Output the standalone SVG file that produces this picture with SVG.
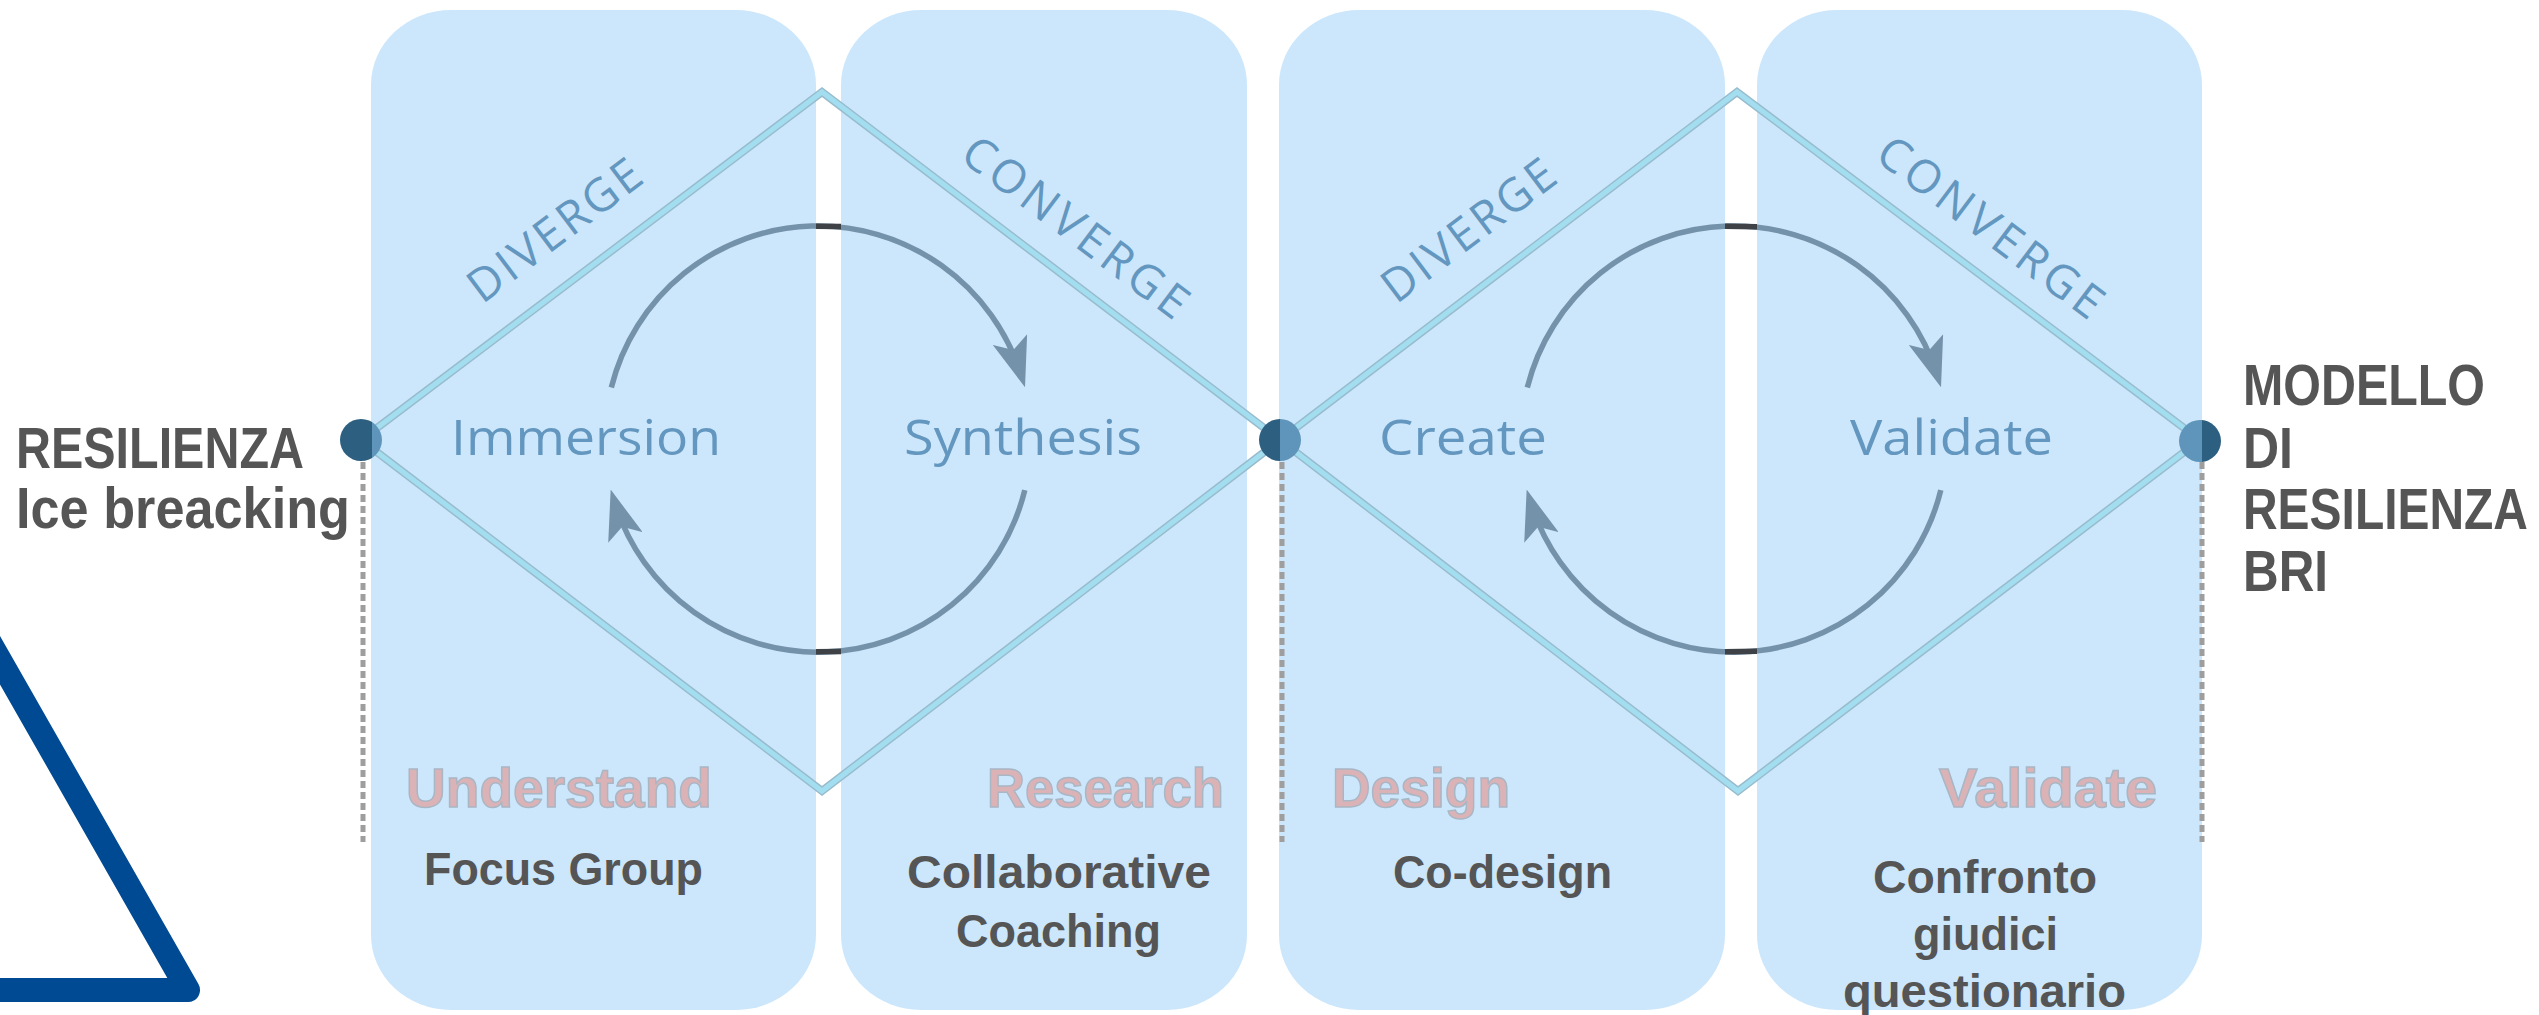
<svg xmlns="http://www.w3.org/2000/svg" width="2539" height="1015" viewBox="0 0 2539 1015">
<defs>
<style>
.panel{fill:#cce7fc}
.dOut{fill:none;stroke:#98bccd;stroke-width:8;stroke-linejoin:miter}
.dIn{fill:none;stroke:#a3def0;stroke-width:5;stroke-linejoin:miter}
.cyc{fill:none;stroke:#7592ab;stroke-width:5.5}
.gap{stroke:#3e4145;stroke-width:5.5}
.dots{stroke:#9e9e9e;stroke-width:5;stroke-dasharray:7 4}
.blue{font-family:"Open Sans","Noto Sans",sans-serif;font-size:50px;fill:#6497bf}
.dc{font-family:"Open Sans","Noto Sans",sans-serif;font-size:46px;fill:#6497bf}
.pink{font-family:"Liberation Sans",Arial,sans-serif;font-weight:bold;font-size:55px;fill:#dbb3b6;stroke:#a9b6c4;stroke-width:1.5}
.dark{font-family:"Liberation Sans",Arial,sans-serif;font-weight:bold;font-size:46px;fill:#555555}
.big{font-family:"Liberation Sans",Arial,sans-serif;font-weight:bold;font-size:58px;fill:#555555}
.cDark{fill:#2d5f80}
.cLight{fill:#5f95bb}
</style>
<marker id="ah" markerUnits="userSpaceOnUse" markerWidth="50" markerHeight="36" viewBox="0 0 50 36" refX="37" refY="18" orient="auto">
<path d="M0,0 L50,18 L0,36 L11,18 Z" fill="#7592ab"/>
</marker>
<clipPath id="cl1"><rect x="0" y="0" width="372" height="1015"/></clipPath>
<clipPath id="cr1"><rect x="372" y="0" width="100" height="1015"/></clipPath>
<clipPath id="cl2"><rect x="1200" y="0" width="80" height="1015"/></clipPath>
<clipPath id="cr2"><rect x="1280" y="0" width="80" height="1015"/></clipPath>
<clipPath id="cl3"><rect x="2100" y="0" width="102" height="1015"/></clipPath>
<clipPath id="cr3"><rect x="2202" y="0" width="100" height="1015"/></clipPath>
</defs>
<rect width="2539" height="1015" fill="#ffffff"/>

<g id="panels">
<rect id="panel-understand" class="panel" x="371" y="10" width="445" height="1000" rx="80" ry="75"/>
<rect id="panel-research" class="panel" x="841" y="10" width="406" height="1000" rx="80" ry="75"/>
<rect id="panel-design" class="panel" x="1279" y="10" width="446" height="1000" rx="80" ry="75"/>
<rect id="panel-validate" class="panel" x="1757" y="10" width="445" height="1000" rx="80" ry="75"/>
</g>

<g id="triangle">
<path d="M -40 590 L 188 990 L -30 990" fill="none" stroke="#004a93" stroke-width="24" stroke-linejoin="round"/>
</g>

<g id="connectors">
<line class="dots" x1="363" y1="462" x2="363" y2="842"/>
<line class="dots" x1="1282" y1="462" x2="1282" y2="842"/>
<line class="dots" x1="2202" y1="462" x2="2202" y2="842"/>
<path class="dOut" d="M361 440 L822 92 L1280 440 L822 791 Z"/>
<path class="dIn" d="M361 440 L822 92 L1280 440 L822 791 Z"/>
<path class="dOut" d="M1280 440 L1737 92 L2200 440 L1738 791 Z"/>
<path class="dIn" d="M1280 440 L1737 92 L2200 440 L1738 791 Z"/>
<path class="cyc" d="M 611.3 387.5 A 213 213 0 0 1 1021.1 374.9" marker-end="url(#ah)"/>
<path class="cyc" d="M 1024.8 490.2 A 213 213 0 0 1 614.5 502" marker-end="url(#ah)"/>
<path class="cyc" d="M 1527.3 387.5 A 213 213 0 0 1 1937.1 374.9" marker-end="url(#ah)"/>
<path class="cyc" d="M 1940.8 490.2 A 213 213 0 0 1 1530.5 502" marker-end="url(#ah)"/>
<line class="gap" x1="816" y1="226.2" x2="841" y2="226.6"/>
<line class="gap" x1="816" y1="651.8" x2="841" y2="651.4"/>
<line class="gap" x1="1725" y1="226.2" x2="1757" y2="226.8"/>
<line class="gap" x1="1725" y1="651.8" x2="1757" y2="651.2"/>
</g>

<g id="node-start">
<circle class="cDark" cx="361" cy="440" r="21" clip-path="url(#cl1)"/>
<circle class="cLight" cx="361" cy="440" r="21" clip-path="url(#cr1)"/>
<text class="big" x="16" y="468" textLength="288" lengthAdjust="spacingAndGlyphs">RESILIENZA</text>
<text class="big" x="16" y="528" textLength="334" lengthAdjust="spacingAndGlyphs">Ice breacking</text>
</g>

<g id="node-mid">
<circle class="cDark" cx="1280" cy="440" r="21" clip-path="url(#cl2)"/>
<circle class="cLight" cx="1280" cy="440" r="21" clip-path="url(#cr2)"/>
</g>

<g id="node-end">
<circle class="cLight" cx="2200" cy="441" r="21" clip-path="url(#cl3)"/>
<circle class="cDark" cx="2200" cy="441" r="21" clip-path="url(#cr3)"/>
<text class="big" x="2243" y="405" textLength="242" lengthAdjust="spacingAndGlyphs">MODELLO</text>
<text class="big" x="2243" y="468" textLength="50" lengthAdjust="spacingAndGlyphs">DI</text>
<text class="big" x="2243" y="529" textLength="285" lengthAdjust="spacingAndGlyphs">RESILIENZA</text>
<text class="big" x="2243" y="591" textLength="85" lengthAdjust="spacingAndGlyphs">BRI</text>
</g>

<g id="diamond-1-labels">
<text class="dc" text-anchor="middle" transform="translate(564,243) rotate(-37)" textLength="205">DIVERGE</text>
<text class="dc" text-anchor="middle" transform="translate(1066,240) rotate(37)" textLength="270">CONVERGE</text>
<text class="blue" x="451" y="455" textLength="270" lengthAdjust="spacingAndGlyphs">Immersion</text>
<text class="blue" x="904" y="455" textLength="238" lengthAdjust="spacingAndGlyphs">Synthesis</text>
</g>

<g id="diamond-2-labels">
<text class="dc" text-anchor="middle" transform="translate(1478,243) rotate(-37)" textLength="205">DIVERGE</text>
<text class="dc" text-anchor="middle" transform="translate(1981,240) rotate(37)" textLength="270">CONVERGE</text>
<text class="blue" x="1379" y="455" textLength="168" lengthAdjust="spacingAndGlyphs">Create</text>
<text class="blue" x="1850" y="455" textLength="203" lengthAdjust="spacingAndGlyphs">Validate</text>
</g>

<g id="stage-understand">
<text class="pink" x="406" y="807" textLength="306" lengthAdjust="spacingAndGlyphs">Understand</text>
<text class="dark" x="424" y="885" textLength="279" lengthAdjust="spacingAndGlyphs">Focus Group</text>
</g>
<g id="stage-research">
<text class="pink" x="987" y="807" textLength="237" lengthAdjust="spacingAndGlyphs">Research</text>
<text class="dark" x="907" y="888" textLength="304" lengthAdjust="spacingAndGlyphs">Collaborative</text>
<text class="dark" x="956" y="947" textLength="205" lengthAdjust="spacingAndGlyphs">Coaching</text>
</g>
<g id="stage-design">
<text class="pink" x="1332" y="807" textLength="178" lengthAdjust="spacingAndGlyphs">Design</text>
<text class="dark" x="1393" y="888" textLength="219" lengthAdjust="spacingAndGlyphs">Co-design</text>
</g>
<g id="stage-validate">
<text class="pink" x="1939" y="807" textLength="218" lengthAdjust="spacingAndGlyphs">Validate</text>
<text class="dark" x="1873" y="893" textLength="224" lengthAdjust="spacingAndGlyphs">Confronto</text>
<text class="dark" x="1913" y="950" textLength="145" lengthAdjust="spacingAndGlyphs">giudici</text>
<text class="dark" x="1843" y="1007" textLength="283" lengthAdjust="spacingAndGlyphs">questionario</text>
</g>
</svg>
